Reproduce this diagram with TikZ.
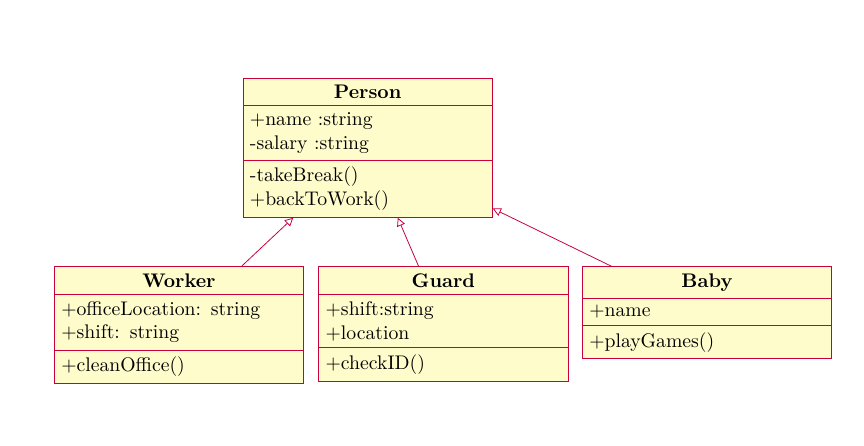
\documentclass[tikz,border=0pt]{standalone}
\usetikzlibrary{arrows.meta,fit}
\definecolor{umldraw}{RGB}{200,0,60}
\definecolor{umlfill}{RGB}{255,252,204}
\tikzset{
  clstitle/.style={fill=umlfill, text width=4.2cm, align=center, font=\bfseries, inner sep=3.333pt},
  clspart/.style={fill=umlfill, text width=4.2cm, align=left, inner sep=3.333pt},
  clsfit/.style={draw=umldraw, line width=0.4pt, inner sep=0pt},
  sepline/.style={draw=umldraw, line width=0.4pt},
  inherit/.style={draw=umldraw, line width=0.4pt, -{Triangle[open,length=4.2pt,width=4.2pt]}},
}
\begin{document}
\begin{tikzpicture}[x=1pt,y=1pt]
\useasboundingbox (0,0) rectangle (438.58,-226.40);
% Person
\node[clstitle, anchor=north west] (pt) at (123.35,-39.59) {Person};
\node[clspart, anchor=north] (pa) at (pt.south) {+name :string\\-salary :string};
\node[clspart, anchor=north] (pm) at (pa.south) {-takeBreak()\\+backToWork()};
\node[clsfit, fit=(pt)(pm)] (person) {};
\draw[sepline] (pt.south west) -- (pt.south east);
\draw[sepline] (pa.south west) -- (pa.south east);
% Worker
\node[clstitle, anchor=north west] (wt) at (27.56,-135.38) {Worker};
\node[clspart, anchor=north] (wa) at (wt.south) {+officeLocation: string\\+shift: string};
\node[clspart, anchor=north] (wm) at (wa.south) {+cleanOffice()};
\node[clsfit, fit=(wt)(wm)] (worker) {};
\draw[sepline] (wt.south west) -- (wt.south east);
\draw[sepline] (wa.south west) -- (wa.south east);
% Guard
\node[clstitle, anchor=north west] (gt) at (161.78,-135.38) {Guard};
\node[clspart, anchor=north] (ga) at (gt.south) {+shift:string\\+location};
\node[clspart, anchor=north] (gm) at (ga.south) {+checkID()};
\node[clsfit, fit=(gt)(gm)] (guard) {};
\draw[sepline] (gt.south west) -- (gt.south east);
\draw[sepline] (ga.south west) -- (ga.south east);
% Baby
\node[clstitle, anchor=north west] (bt) at (295.58,-135.38) {Baby};
\node[clspart, anchor=north] (ba) at (bt.south) {+name};
\node[clspart, anchor=north] (bm) at (ba.south) {+playGames()};
\node[clsfit, fit=(bt)(bm)] (baby) {};
\draw[sepline] (bt.south west) -- (bt.south east);
\draw[sepline] (ba.south west) -- (ba.south east);
% inheritance
\draw[inherit] (worker) -- (person);
\draw[inherit] (guard) -- (person);
\draw[inherit] (baby) -- (person);
\end{tikzpicture}
\end{document}
